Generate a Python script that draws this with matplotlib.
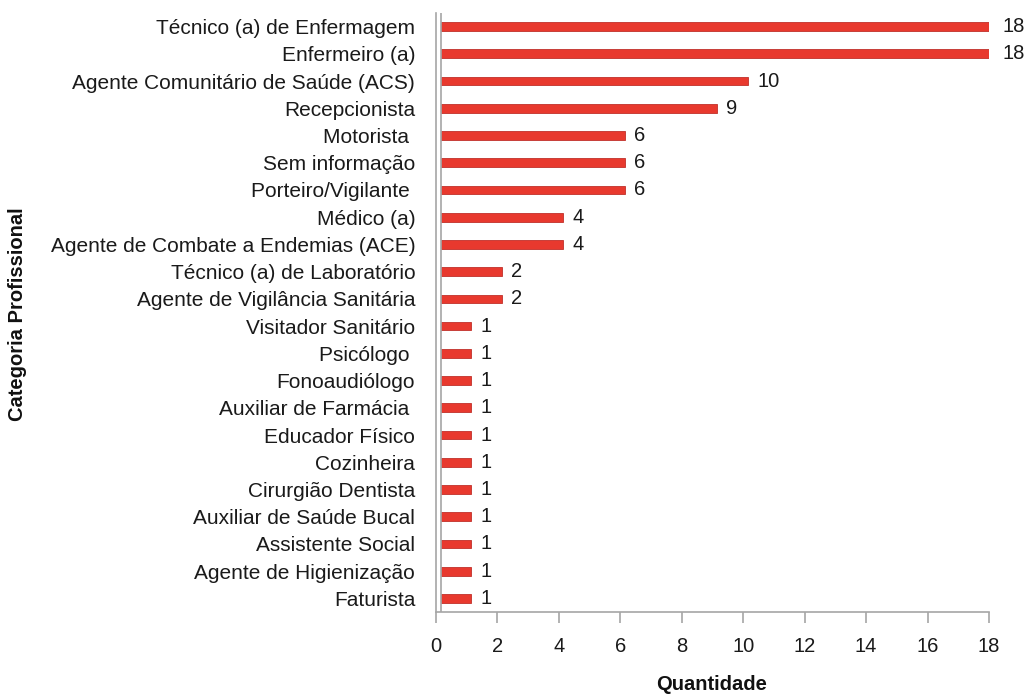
import matplotlib
matplotlib.use("Agg")
import matplotlib.pyplot as plt

categories = [
    "Técnico (a) de Enfermagem", "Enfermeiro (a)", "Agente Comunitário de Saúde (ACS)",
    "Recepcionista", "Motorista ", "Sem informação", "Porteiro/Vigilante ", "Médico (a)",
    "Agente de Combate a Endemias (ACE)", "Técnico (a) de Laboratório",
    "Agente de Vigilância Sanitária", "Visitador Sanitário", "Psicólogo ", "Fonoaudiólogo",
    "Auxiliar de Farmácia ", "Educador Físico", "Cozinheira", "Cirurgião Dentista",
    "Auxiliar de Saúde Bucal", "Assistente Social", "Agente de Higienização", "Faturista",
]
values = [18, 18, 10, 9, 6, 6, 6, 4, 4, 2, 2, 1, 1, 1, 1, 1, 1, 1, 1, 1, 1, 1]
xticks = [0, 2, 4, 6, 8, 10, 12, 14, 16, 18]

plt.rcParams['font.family'] = ['Liberation Sans', 'DejaVu Sans']
FS = 14.5

fig = plt.figure(figsize=(10.29, 6.95), dpi=100)
ax = fig.add_axes([436/1029, 1-612/695, (989-436)/1029, (612-13)/695])

n = len(categories)
ypos = list(range(n))
ax.barh(ypos, values, height=0.32, left=0.15, color='#E8392E', edgecolor='#C0302A', linewidth=0.6)
for y, v in zip(ypos, values):
    ax.text(v + 0.15 + 0.3, y, str(v), va='center', ha='left', fontsize=FS, color='#1a1a1a')

ax.set_ylim(n - 0.5, -0.5)
ax.set_xlim(0, 18)
ax.set_yticks(ypos)
ax.set_yticklabels(categories, fontsize=15, color='#1a1a1a')
ax.tick_params(axis='y', length=0, pad=15)
ax.set_xticks(xticks)
ax.set_xticklabels([str(t) for t in xticks], fontsize=FS, color='#1a1a1a')
ax.tick_params(axis='x', length=8, color='#A6A6A6', width=1.2, pad=10)

for s in ['top', 'right']:
    ax.spines[s].set_visible(False)
ax.spines['left'].set_color('#A6A6A6')
ax.spines['bottom'].set_color('#A6A6A6')
ax.spines['left'].set_linewidth(1.2)
ax.spines['bottom'].set_linewidth(1.2)
ax.axvline(0.15, color='#A6A6A6', linewidth=1.2)

fig.text(712/1029, 1-684/695, "Quantidade", fontsize=FS, fontweight='bold',
         ha='center', va='center', color='#111111')
fig.text(18/1029, 1-314/695, "Categoria Profissional", rotation=90, fontsize=FS,
         fontweight='bold', ha='center', va='center', color='#111111')

fig.savefig("out.png", dpi=100)
